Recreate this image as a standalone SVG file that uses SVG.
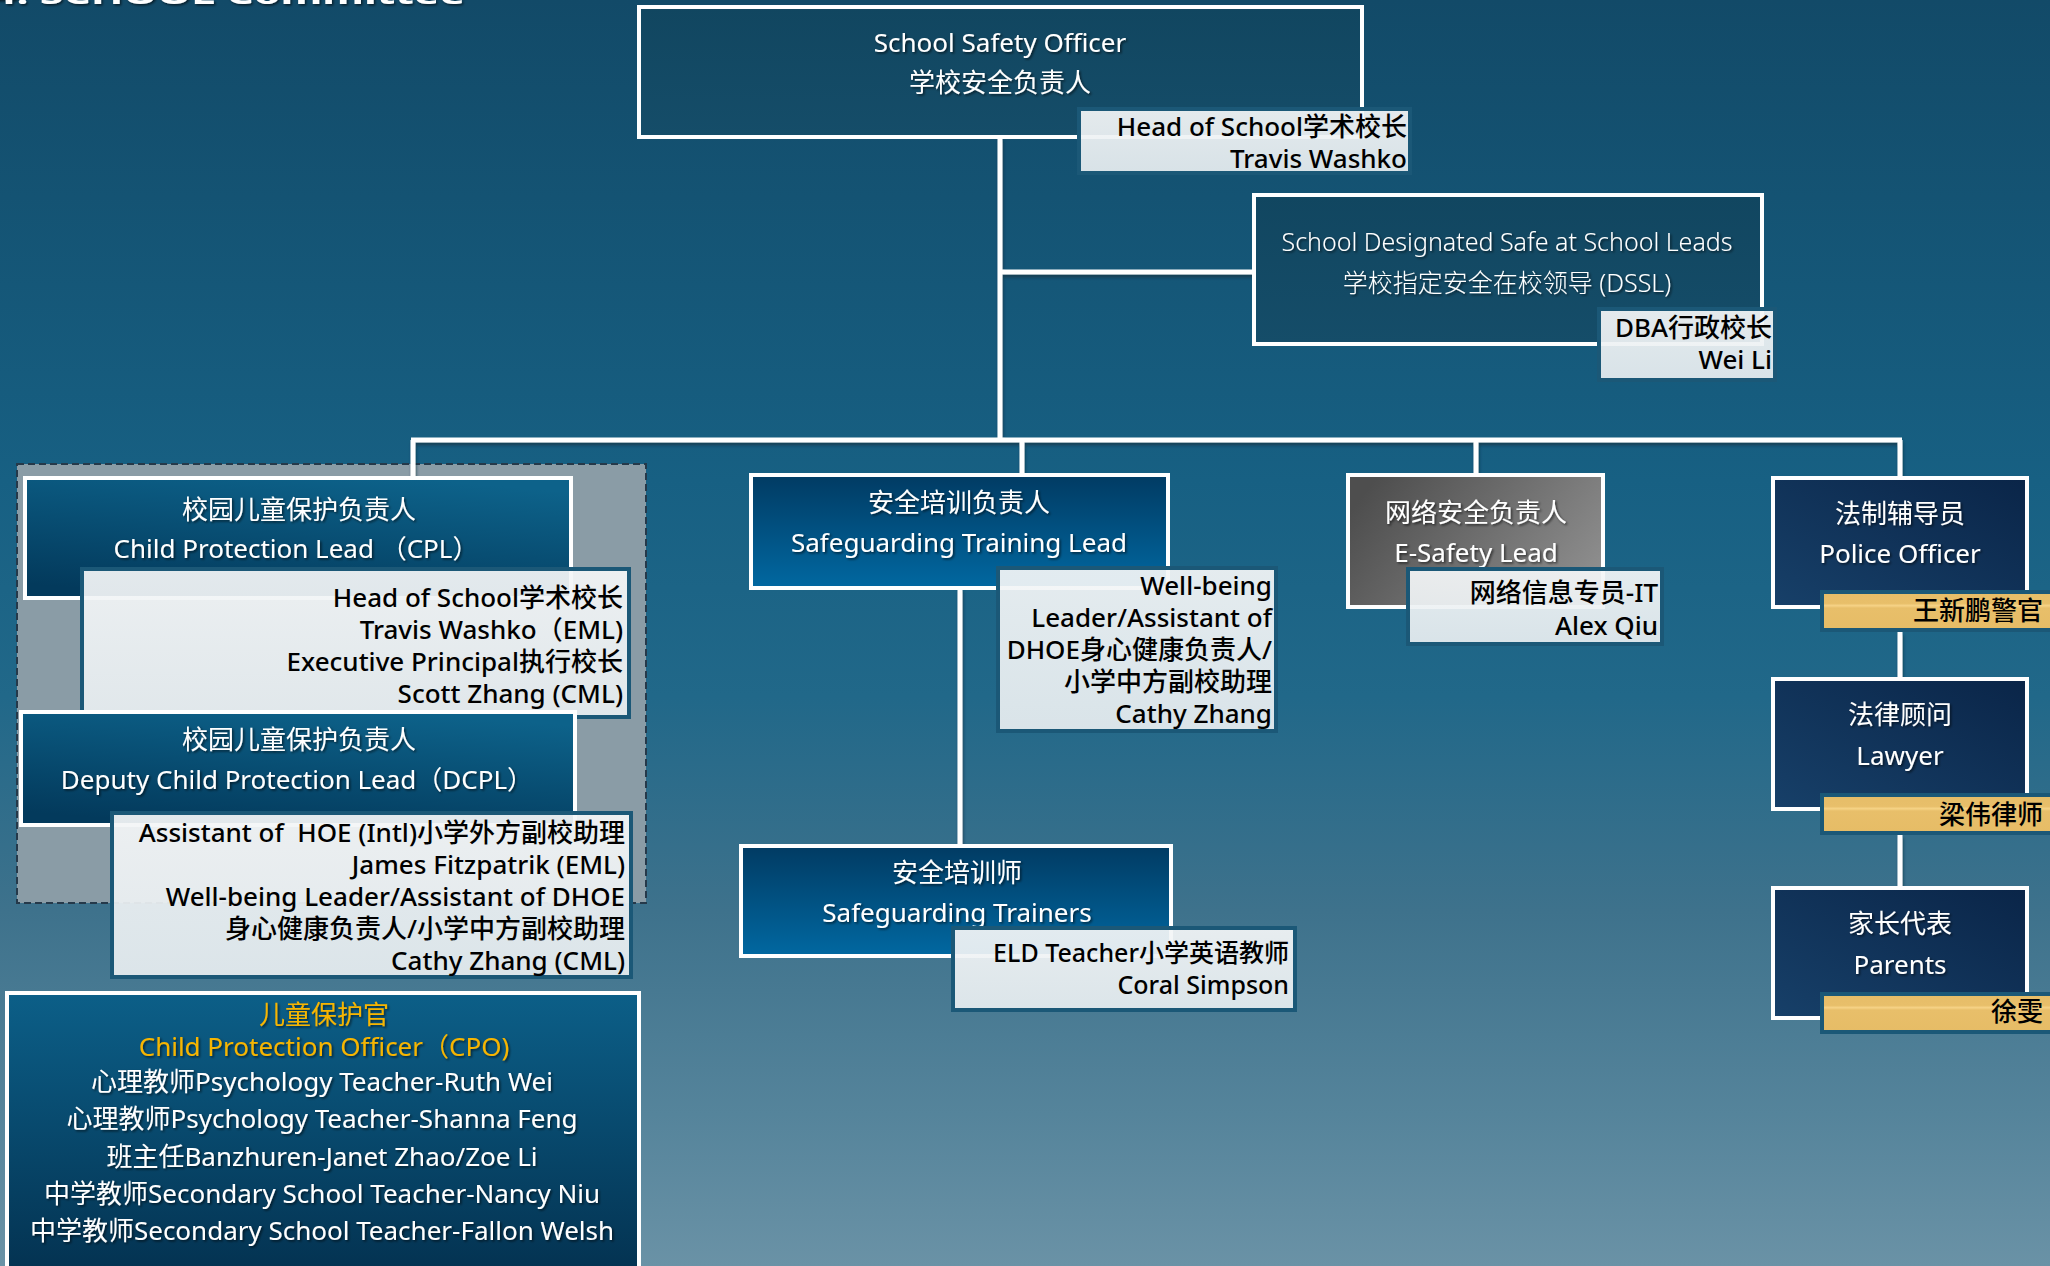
<svg xmlns="http://www.w3.org/2000/svg" width="2050" height="1266" viewBox="0 0 2050 1266">
<defs>
<linearGradient id="bg" x1="0" y1="0" x2="0" y2="1">
<stop offset="0" stop-color="#124a68"/>
<stop offset="0.38" stop-color="#176083"/>
<stop offset="0.55" stop-color="#216889"/>
<stop offset="0.72" stop-color="#3e728c"/>
<stop offset="0.88" stop-color="#55849b"/>
<stop offset="1" stop-color="#6a92a6"/>
</linearGradient>
<linearGradient id="gTop" x1="0" y1="0" x2="0" y2="1">
<stop offset="0" stop-color="#114660"/>
<stop offset="1" stop-color="#154d69"/>
</linearGradient>
<linearGradient id="gCpl" x1="0.3" y1="1" x2="0.7" y2="0">
<stop offset="0" stop-color="#033a5c"/>
<stop offset="1" stop-color="#0d628a"/>
</linearGradient>
<linearGradient id="gTrain" x1="0" y1="0" x2="0" y2="1">
<stop offset="0" stop-color="#013b63"/>
<stop offset="1" stop-color="#0168a1"/>
</linearGradient>
<linearGradient id="gGray" x1="0" y1="0.3" x2="1" y2="0.7">
<stop offset="0" stop-color="#4e4e4e"/>
<stop offset="1" stop-color="#8e8e8e"/>
</linearGradient>
<linearGradient id="gNavy" x1="1" y1="0" x2="0" y2="1">
<stop offset="0" stop-color="#0a2548"/>
<stop offset="1" stop-color="#174069"/>
</linearGradient>
<linearGradient id="gCpo" x1="0" y1="0" x2="0" y2="1">
<stop offset="0" stop-color="#0c5f88"/>
<stop offset="1" stop-color="#032f4d"/>
</linearGradient>
<linearGradient id="gTag" x1="0" y1="0" x2="0" y2="1">
<stop offset="0" stop-color="#f4f6f7"/>
<stop offset="0.45" stop-color="#eef2f4"/>
<stop offset="1" stop-color="#e7edf0"/>
</linearGradient>
<linearGradient id="gGold" x1="0" y1="0" x2="0" y2="1">
<stop offset="0" stop-color="#e6bd68"/>
<stop offset="0.3" stop-color="#e8bf6a"/>
<stop offset="0.36" stop-color="#f6d386"/>
<stop offset="0.42" stop-color="#e8bf6a"/>
<stop offset="1" stop-color="#e6bc66"/>
</linearGradient>
<filter id="ts" x="-5%" y="-30%" width="110%" height="160%">
<feDropShadow dx="1.5" dy="1.5" stdDeviation="1" flood-color="#000" flood-opacity="0.6"/>
</filter>
<filter id="ls" x="-5%" y="-5%" width="110%" height="110%">
<feDropShadow dx="1" dy="3" stdDeviation="1.5" flood-color="#0a2a3c" flood-opacity="0.6"/>
</filter>
</defs>
<style>
text { font-family: "Noto Sans", "Noto Sans CJK SC", sans-serif; font-size: 26px; }
.w { fill: #ffffff; text-anchor: middle; filter: url(#ts); }
.lt { font-weight: 300; font-size: 25px; }
.g { fill: #f7b500; text-anchor: middle; filter: url(#ts); }
.k { fill: #000000; text-anchor: end; font-weight: 500; }
.box { stroke: #ffffff; stroke-width: 4; }
.tag { fill: url(#gTag); fill-opacity: 0.93; stroke: #1b5877; stroke-width: 4; }
.gold { fill: url(#gGold); stroke: #1b5877; stroke-width: 4; }
.ln { stroke: #ffffff; stroke-width: 5; fill: none; }
</style>
<rect x="0" y="0" width="2050" height="1266" fill="url(#bg)"/>
<text x="-8" y="4" font-size="48" font-weight="700" fill="#ffffff" textLength="473" lengthAdjust="spacingAndGlyphs" filter="url(#ts)">4. SCHOOL Committee</text>

<g id="cpl-group-area">
<rect x="17" y="464" width="629" height="439" fill="#8a9ca6" stroke="#25394a" stroke-width="2" stroke-dasharray="7 4"/>
</g>

<g id="connectors" filter="url(#ls)">
<line class="ln" x1="1000" y1="137" x2="1000" y2="442"/>
<line class="ln" x1="1000" y1="272" x2="1254" y2="272"/>
<line class="ln" x1="411" y1="440" x2="1902" y2="440"/>
<line class="ln" x1="413" y1="440" x2="413" y2="478"/>
<line class="ln" x1="1022" y1="440" x2="1022" y2="475"/>
<line class="ln" x1="1476" y1="440" x2="1476" y2="475"/>
<line class="ln" x1="1900" y1="440" x2="1900" y2="478"/>
<line class="ln" x1="960" y1="588" x2="960" y2="846"/>
<line class="ln" x1="1900" y1="632" x2="1900" y2="679"/>
<line class="ln" x1="1900" y1="835" x2="1900" y2="888"/>
</g>

<g id="school-safety-officer">
<rect class="box" x="639" y="7" width="723" height="130" fill="url(#gTop)"/>
<text class="w" x="1000" y="52">School Safety Officer</text>
<text class="w" x="1000" y="92">学校安全负责人</text>
<rect class="tag" x="1079" y="109" width="331" height="64"/>
<text class="k" x="1407" y="136">Head of School学术校长</text>
<text class="k" x="1407" y="168">Travis Washko</text>
</g>

<g id="dssl">
<rect class="box" x="1254" y="195" width="508" height="149" fill="url(#gTop)"/>
<text class="w lt" x="1507" y="251">School Designated Safe at School Leads</text>
<text class="w lt" x="1507" y="292">学校指定安全在校领导 (DSSL)</text>
<rect class="tag" x="1599" y="309" width="176" height="71"/>
<text class="k" x="1772" y="337">DBA行政校长</text>
<text class="k" x="1772" y="369">Wei Li</text>
</g>

<g id="cpl">
<rect class="box" x="25" y="478" width="546" height="120" fill="url(#gCpl)"/>
<text class="w" x="299" y="519">校园儿童保护负责人</text>
<text class="w" x="296" y="558">Child Protection Lead （CPL）</text>
<rect class="tag" x="82" y="569" width="547" height="148"/>
<text class="k" x="623" y="607">Head of School学术校长</text>
<text class="k" x="623" y="639">Travis Washko（EML)</text>
<text class="k" x="623" y="671">Executive Principal执行校长</text>
<text class="k" x="623" y="703">Scott Zhang (CML)</text>
</g>

<g id="dcpl">
<rect class="box" x="21" y="712" width="554" height="113" fill="url(#gCpl)"/>
<text class="w" x="299" y="749">校园儿童保护负责人</text>
<text class="w" x="297" y="789">Deputy Child Protection Lead（DCPL）</text>
<rect class="tag" x="112" y="813" width="519" height="164"/>
<text class="k" x="625" y="842" style="white-space:pre">Assistant of  HOE (Intl)小学外方副校助理</text>
<text class="k" x="625" y="874">James Fitzpatrik (EML)</text>
<text class="k" x="625" y="906">Well-being Leader/Assistant of DHOE</text>
<text class="k" x="625" y="938">身心健康负责人/小学中方副校助理</text>
<text class="k" x="625" y="970">Cathy Zhang (CML)</text>
</g>

<g id="cpo">
<rect class="box" x="7" y="993" width="632" height="300" fill="url(#gCpo)"/>
<text class="g" x="324" y="1024">儿童保护官</text>
<text class="g" x="324" y="1056">Child Protection Officer（CPO)</text>
<text class="w" x="322" y="1091">心理教师Psychology Teacher-Ruth Wei</text>
<text class="w" x="322" y="1128">心理教师Psychology Teacher-Shanna Feng</text>
<text class="w" x="322" y="1166">班主任Banzhuren-Janet Zhao/Zoe Li</text>
<text class="w" x="322" y="1203">中学教师Secondary School Teacher-Nancy Niu</text>
<text class="w" x="322" y="1240">中学教师Secondary School Teacher-Fallon Welsh</text>
</g>

<g id="training-lead">
<rect class="box" x="751" y="475" width="417" height="113" fill="url(#gTrain)"/>
<text class="w" x="959" y="512">安全培训负责人</text>
<text class="w" x="959" y="552">Safeguarding Training Lead</text>
<rect class="tag" x="998" y="568" width="278" height="163"/>
<text class="k" x="1272" y="595">Well-being</text>
<text class="k" x="1272" y="627">Leader/Assistant of</text>
<text class="k" x="1272" y="659">DHOE身心健康负责人/</text>
<text class="k" x="1272" y="691">小学中方副校助理</text>
<text class="k" x="1272" y="723">Cathy Zhang</text>
</g>

<g id="trainers">
<rect class="box" x="741" y="846" width="430" height="110" fill="url(#gTrain)"/>
<text class="w" x="957" y="882">安全培训师</text>
<text class="w" x="957" y="922">Safeguarding Trainers</text>
<rect class="tag" x="953" y="928" width="342" height="82"/>
<text class="k" x="1289" y="962" style="font-size:25px">ELD Teacher小学英语教师</text>
<text class="k" x="1289" y="994" style="font-size:25px">Coral Simpson</text>
</g>

<g id="e-safety">
<rect class="box" x="1348" y="475" width="255" height="132" fill="url(#gGray)"/>
<text class="w" x="1476" y="522">网络安全负责人</text>
<text class="w" x="1476" y="562">E-Safety Lead</text>
<rect class="tag" x="1408" y="569" width="254" height="75"/>
<text class="k" x="1658" y="602">网络信息专员-IT</text>
<text class="k" x="1658" y="635">Alex Qiu</text>
</g>

<g id="police">
<rect class="box" x="1773" y="478" width="254" height="129" fill="url(#gNavy)"/>
<text class="w" x="1900" y="523">法制辅导员</text>
<text class="w" x="1900" y="563">Police Officer</text>
<rect class="gold" x="1822" y="592" width="240" height="38"/>
<text class="k" x="2043" y="620">王新鹏警官</text>
</g>

<g id="lawyer">
<rect class="box" x="1773" y="679" width="254" height="130" fill="url(#gNavy)"/>
<text class="w" x="1900" y="724">法律顾问</text>
<text class="w" x="1900" y="765">Lawyer</text>
<rect class="gold" x="1822" y="795" width="240" height="38"/>
<text class="k" x="2043" y="824">梁伟律师</text>
</g>

<g id="parents">
<rect class="box" x="1773" y="888" width="254" height="130" fill="url(#gNavy)"/>
<text class="w" x="1900" y="933">家长代表</text>
<text class="w" x="1900" y="974">Parents</text>
<rect class="gold" x="1822" y="994" width="240" height="38"/>
<text class="k" x="2043" y="1021">徐雯</text>
</g>
</svg>
